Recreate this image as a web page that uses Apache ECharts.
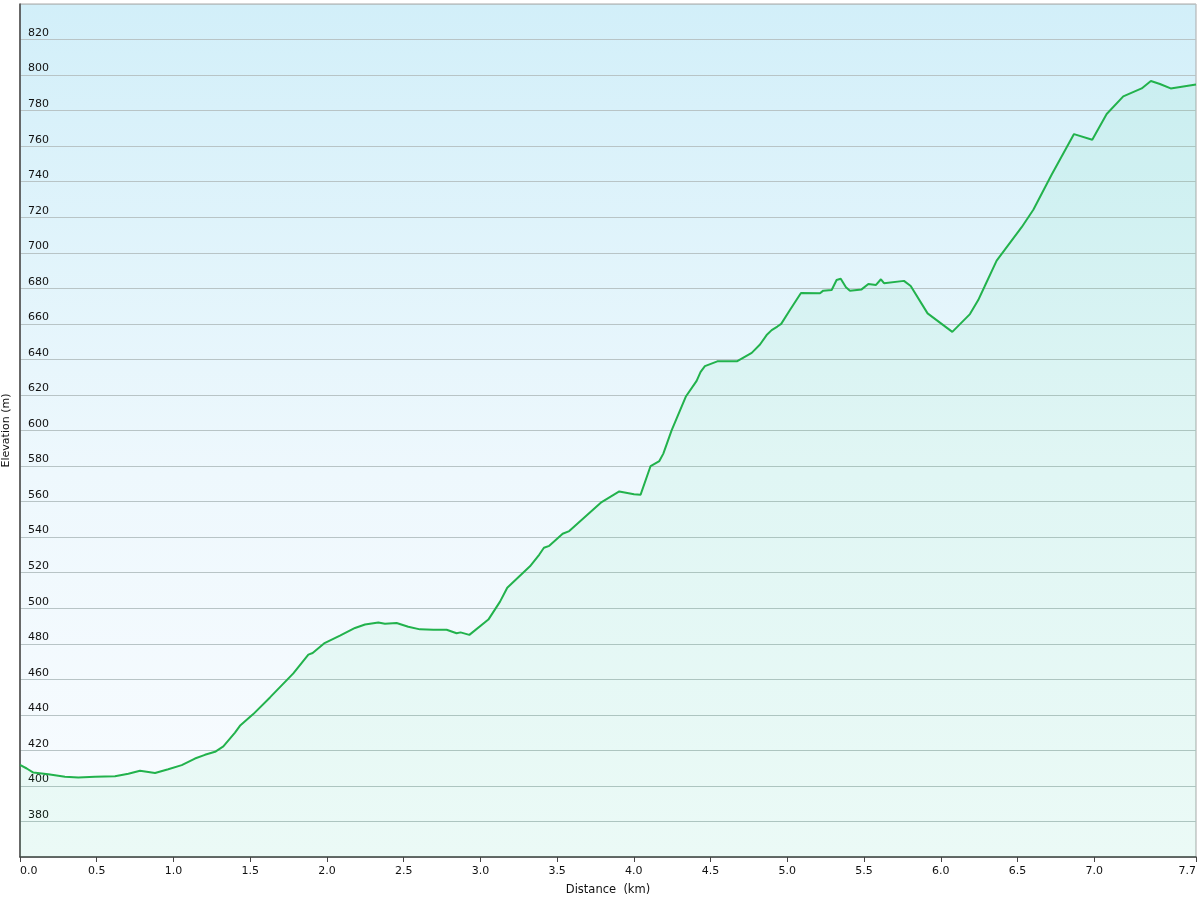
<!DOCTYPE html>
<html>
<head>
<meta charset="utf-8">
<script src="https://cdn.jsdelivr.net/npm/echarts@6/dist/echarts.min.js"></script>
<style>html,body{margin:0;padding:0;background:#fff}#c{width:1200px;height:900px}</style>
</head>
<body>
<div id="c"></div>
<script>
const distanceKm = [0.000,0.044,0.087,0.184,0.293,0.380,0.489,0.619,0.706,0.782,0.880,0.966,1.054,1.140,1.205,1.271,1.325,1.401,1.433,1.520,1.629,1.781,1.879,1.907,1.981,2.085,2.183,2.248,2.335,2.378,2.454,2.530,2.606,2.693,2.780,2.845,2.871,2.928,3.052,3.128,3.175,3.323,3.384,3.414,3.449,3.536,3.579,3.790,3.905,4.001,4.044,4.109,4.166,4.192,4.246,4.340,4.409,4.435,4.463,4.544,4.674,4.768,4.822,4.865,4.898,4.935,4.960,5.017,5.089,5.213,5.234,5.289,5.321,5.348,5.361,5.382,5.408,5.484,5.528,5.578,5.610,5.630,5.760,5.804,5.914,6.075,6.190,6.244,6.283,6.364,6.527,6.603,6.722,6.868,6.987,7.081,7.189,7.309,7.369,7.428,7.498,7.663];
const elevationM = [411.8,409.8,407.5,406.6,405.1,404.7,405.1,405.5,406.9,408.5,407.3,409.4,411.7,415.4,417.5,419.2,422.2,430.0,433.8,440.4,449.8,463.3,473.9,474.8,480.2,484.6,488.9,490.8,491.9,491.3,491.7,489.6,488.1,487.9,487.9,485.9,486.4,485.0,493.6,503.7,511.5,523.6,530.2,534.0,535.1,541.9,543.4,559.7,565.7,564.1,563.9,580.0,582.8,587.0,600.1,619.3,627.9,633.0,636.2,638.9,639.0,643.7,648.4,653.7,656.5,658.5,660.0,667.8,677.4,677.2,678.7,679.1,684.7,685.4,684.3,680.6,678.7,679.4,682.4,681.9,685.1,682.9,684.2,681.3,665.9,655.5,665.5,673.4,680.6,695.6,714.4,724.2,743.9,766.8,763.6,778.1,788.0,792.5,796.7,795.0,792.5,794.7];
const xTickValues = [0,0.5,1.0,1.5,2.0,2.5,3.0,3.5,4.0,4.5,5.0,5.5,6.0,6.5,7.0,7.663];
const yHiddenLabels = [360,840];
const xAxisName = 'Distance  (km)';
const yAxisName = 'Elevation (m)';

const chart = echarts.init(document.getElementById('c'), null, {renderer:'canvas'});
const font = 'DejaVu Sans';
chart.setOption({
  animation:false,
  backgroundColor:'#ffffff',
  grid:{left:20,right:4,top:4,bottom:43,outerBoundsMode:'none',containLabel:false,show:true,borderColor:'#a9a9a9',borderWidth:1,
    backgroundColor:new echarts.graphic.LinearGradient(0,0,0,1,[{offset:0,color:'#d2eff9'},{offset:0.55,color:'#eef8fd'},{offset:1,color:'#f9fcff'}])},
  xAxis:{type:'value',min:0,max:7.663,
    name:xAxisName,nameLocation:'middle',nameGap:27,nameTextStyle:{fontFamily:font,fontSize:11.5,color:'#111'},
    axisLine:{show:true,onZero:false,lineStyle:{color:'#444',width:1.5}},
    axisTick:{show:true,length:5,customValues:xTickValues,lineStyle:{color:'#444'}},
    axisLabel:{customValues:xTickValues,margin:9,fontFamily:font,fontSize:11,color:'#111',
      alignMinLabel:'left',alignMaxLabel:'right',formatter:v=>v.toFixed(1)},
    splitLine:{show:false}},
  yAxis:{type:'value',min:360,max:840,interval:20,
    name:yAxisName,nameLocation:'middle',nameGap:0,nameRotate:90,nameTextStyle:{fontFamily:font,fontSize:11,color:'#111'},
    axisLine:{show:true,lineStyle:{color:'#444',width:1.5}},
    axisTick:{show:false},
    axisLabel:{inside:true,margin:8,fontFamily:font,fontSize:11,color:'#111',verticalAlign:'bottom',padding:[0,0,1,0],
      formatter:v=>yHiddenLabels.includes(v)?'':String(v)},
    splitLine:{show:true,lineStyle:{color:'#b8c4c6',width:1}}},
  series:[{type:'line',data:distanceKm.map((d,i)=>[d,elevationM[i]]),
    showSymbol:false,symbol:'none',smooth:false,
    lineStyle:{color:'#22b24c',width:2},
    areaStyle:{color:'rgba(0,210,90,0.08)',origin:'start'}}]
});
</script>
</body>
</html>
